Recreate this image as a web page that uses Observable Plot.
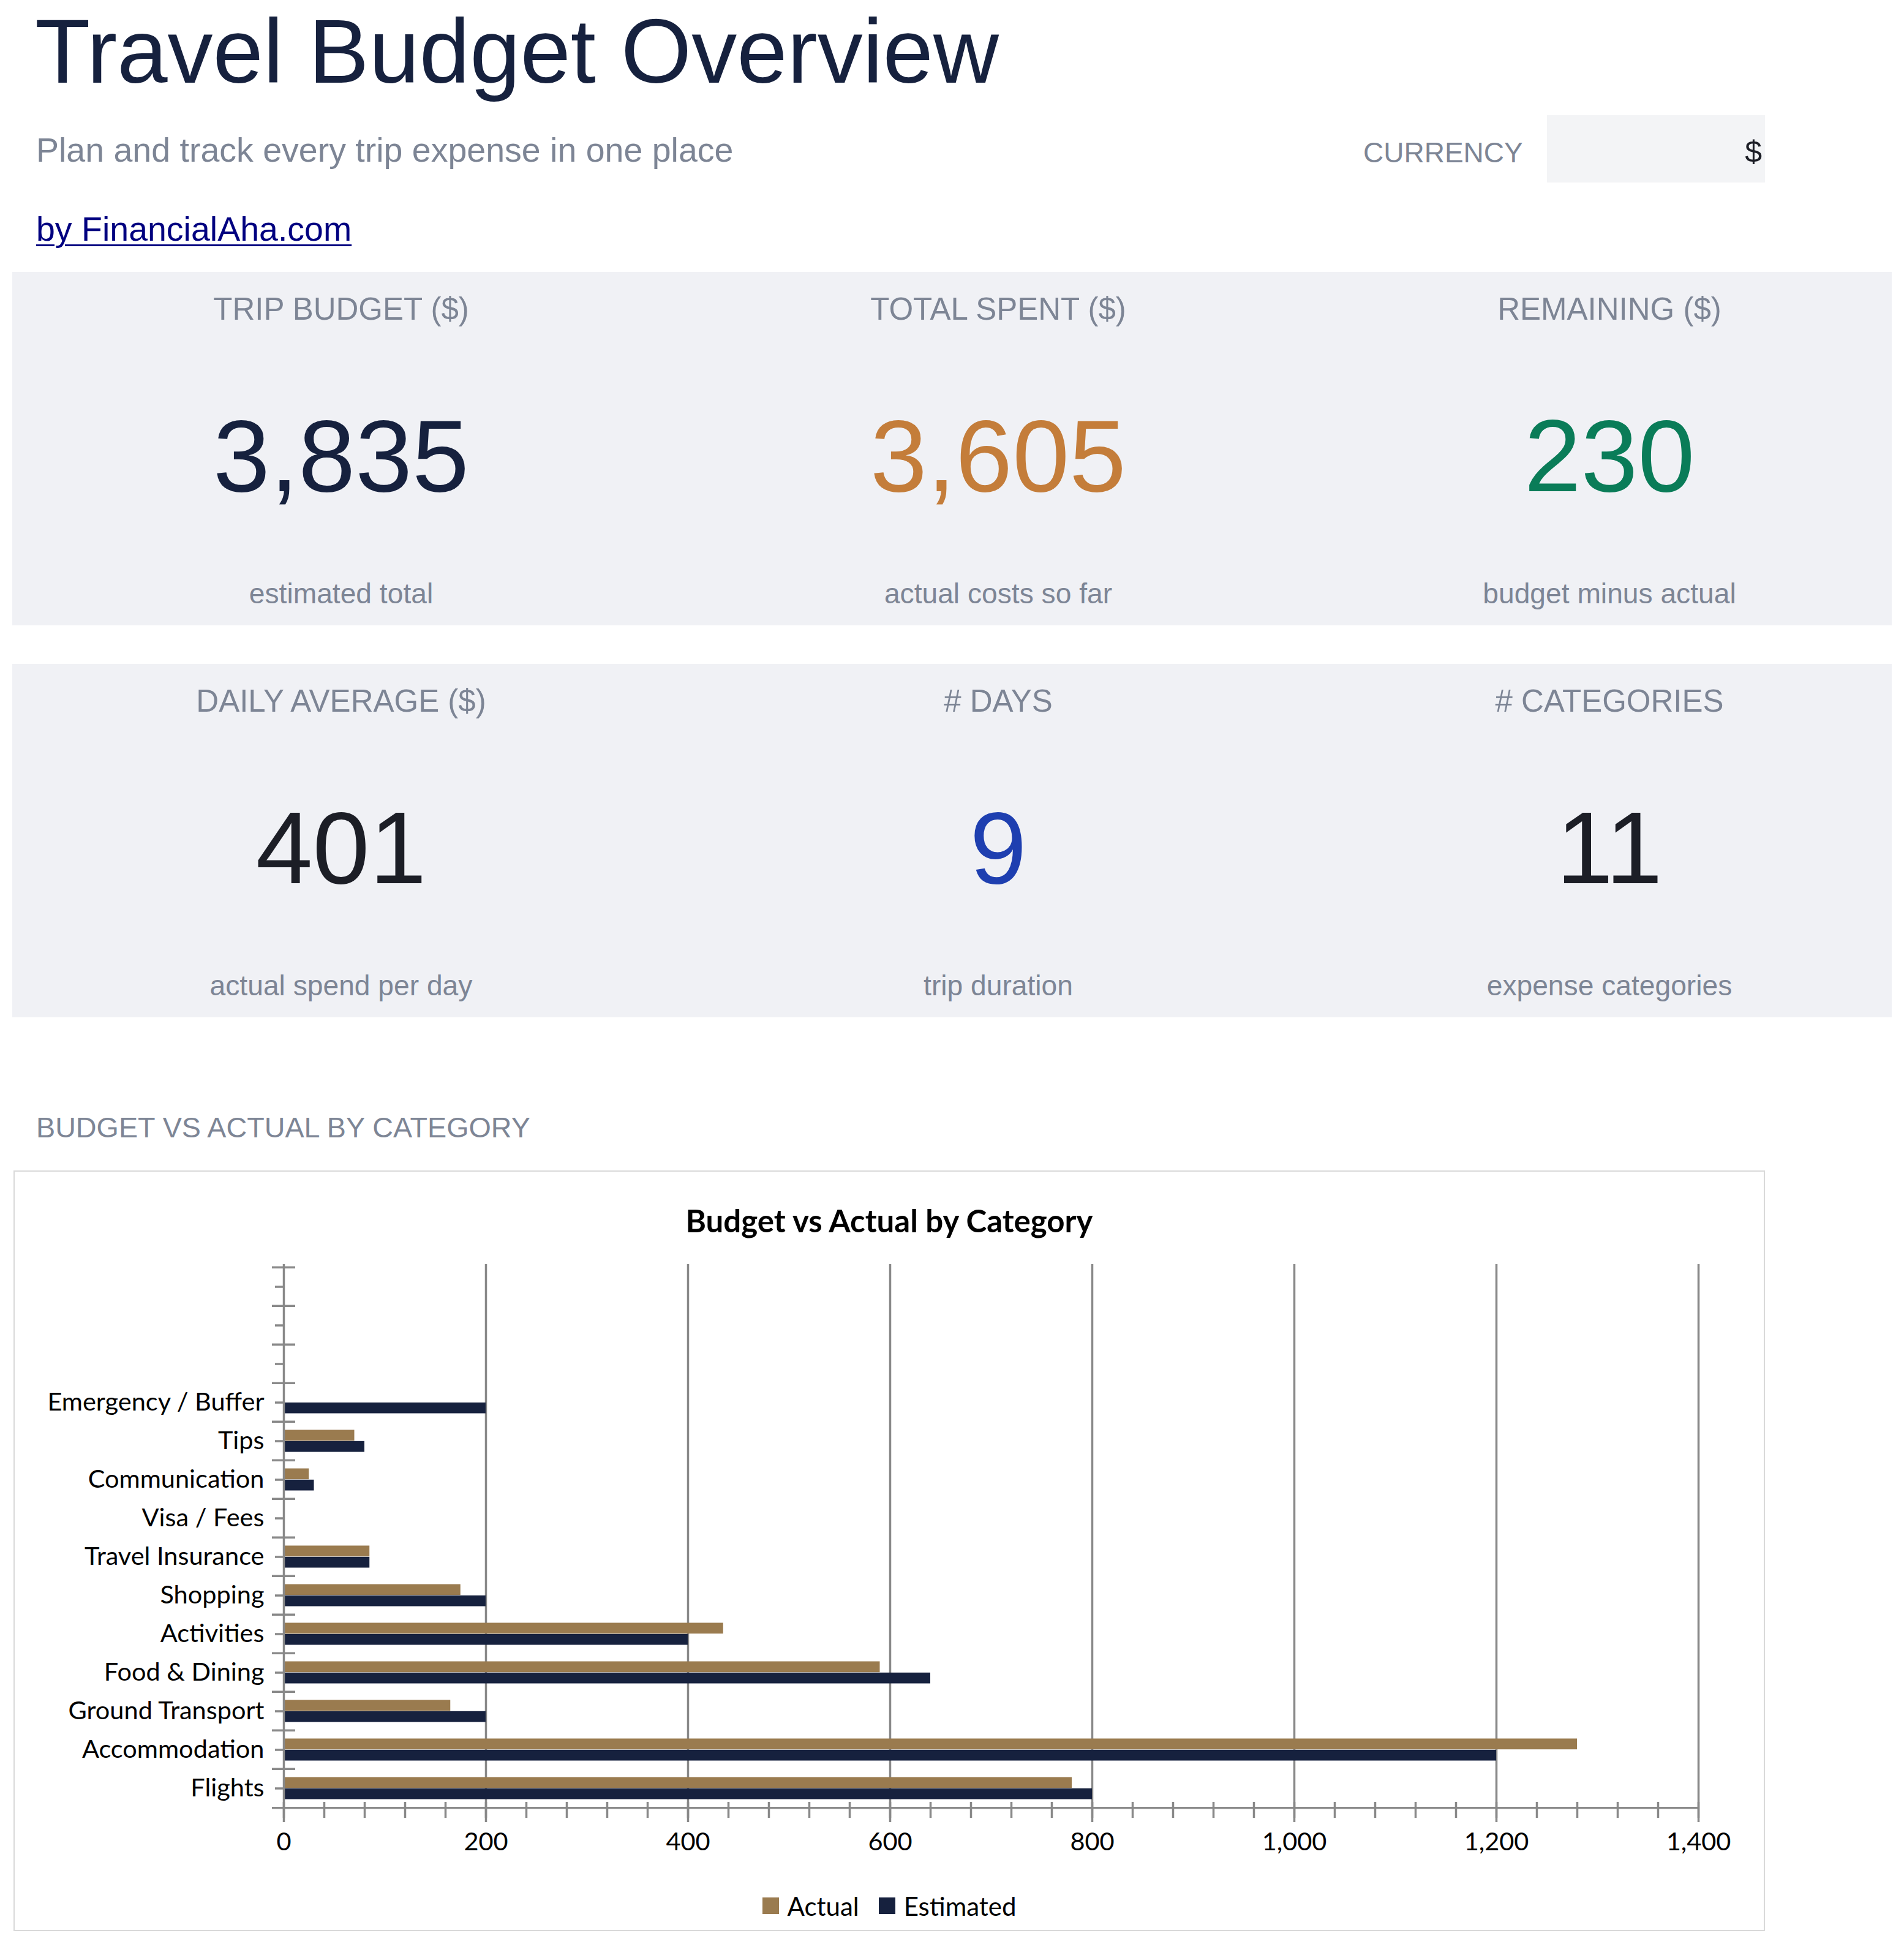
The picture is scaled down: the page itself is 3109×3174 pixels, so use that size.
<!DOCTYPE html>
<html>
<head>
<meta charset="utf-8">
<script src="https://cdn.jsdelivr.net/npm/d3@7"></script>
<script src="https://cdn.jsdelivr.net/npm/@observablehq/plot@0.6"></script>
<style>
  html, body { margin: 0; padding: 0; background: #ffffff; }
  #page { position: relative; width: 3109px; height: 3174px; font-family: "Liberation Sans", Arial, sans-serif; overflow: hidden; }
  .t { position: absolute; line-height: 1; white-space: nowrap; }
  .panel { position: absolute; left: 20px; width: 3069px; background: #f0f1f5; }
  #chartbox { position: absolute; left: 22px; top: 1911px; width: 2860px; height: 1242px; border: 2px solid #d9d9d9; box-sizing: border-box; background: #fff; }
  #plotwrap { position: absolute; left: 0px; top: 107px; }
  #ctitle { position: absolute; left: 0; width: 2856px; text-align: center; font-family: Lato, sans-serif; font-weight: bold; font-size: 51px; line-height: 1; color: #000; }
  #legend { position: absolute; left: 0; width: 2856px; display: flex; justify-content: center; align-items: center; font-family: Lato, sans-serif; font-size: 42px; line-height: 1; color: #000; }
  .sw { display: inline-block; width: 27px; height: 27px; margin-right: 14px; }
  .li { display: inline-flex; align-items: center; margin: 0 16px; }
</style>
</head>
<body>
<div id="page"></div>
<script>
// ---------------- data ----------------
const categories = ["Flights", "Accommodation", "Ground Transport", "Food & Dining", "Activities", "Shopping", "Travel Insurance", "Visa / Fees", "Communication", "Tips", "Emergency / Buffer"];
const estimated = [800, 1200, 200, 640, 400, 200, 85, 0, 30, 80, 200];
const actual    = [780, 1280, 165, 590, 435, 175, 85, 0, 25, 70, 0];
const blankRows = 3;            // empty category rows shown above the data
const tripDays = 9;
const series = ["Actual", "Estimated"];
const seriesColors = ["#9a7b4f", "#16213e"];
const xMajorTicks = [0, 200, 400, 600, 800, 1000, 1200, 1400];

const kpiLabels = ["TRIP BUDGET ($)", "TOTAL SPENT ($)", "REMAINING ($)", "DAILY AVERAGE ($)", "# DAYS", "# CATEGORIES"];
const kpiNotes  = ["estimated total", "actual costs so far", "budget minus actual", "actual spend per day", "trip duration", "expense categories"];
const kpiColors = ["#16213e", "#c47d3a", "#0a7c58", "#1c1e26", "#1e3fb0", "#1c1e26"];

// ---------------- page text ----------------
const page = document.getElementById("page");
const LIB = 0.8465, LATO = 0.887;
function addText(txt, {x, baseline, size, color, align = "left", weight = "normal", family = null, underline = false, width = 1200}) {
  const d = document.createElement("div");
  d.className = "t";
  d.textContent = txt;
  d.style.fontSize = size + "px";
  d.style.color = color;
  d.style.fontWeight = weight;
  if (family) d.style.fontFamily = family;
  if (underline) { d.style.textDecoration = "underline"; d.style.textDecorationThickness = "3px"; d.style.textUnderlineOffset = "6px"; }
  d.style.top = (baseline - LIB * size) + "px";
  if (align === "center") { d.style.left = (x - width / 2) + "px"; d.style.width = width + "px"; d.style.textAlign = "center"; }
  else if (align === "right") { d.style.left = (x - width) + "px"; d.style.width = width + "px"; d.style.textAlign = "right"; }
  else d.style.left = x + "px";
  page.appendChild(d);
  return d;
}

addText("Travel Budget Overview", {x: 57, baseline: 135, size: 148, color: "#16213e"});
addText("Plan and track every trip expense in one place", {x: 59, baseline: 265, size: 55.5, color: "#7d8595"});
addText("CURRENCY", {x: 2226, baseline: 265, size: 46, color: "#7d8595"});
const cur = document.createElement("div");
cur.style.cssText = "position:absolute;left:2526px;top:188px;width:356px;height:110px;background:#f3f4f6;";
page.appendChild(cur);
addText("$", {x: 2877, baseline: 265, size: 50, color: "#1c1e26", align: "right", width: 200});
addText("by FinancialAha.com", {x: 59, baseline: 394, size: 55.5, color: "#000080", underline: true});

// panels
const panelTops = [444, 1084];
const panelH = 577;
panelTops.forEach(t => {
  const p = document.createElement("div");
  p.className = "panel";
  p.style.top = t + "px";
  p.style.height = panelH + "px";
  page.appendChild(p);
});

const totalEst = d3.sum(estimated), totalAct = d3.sum(actual);
const kpiValues = [
  d3.format(",")(totalEst),
  d3.format(",")(totalAct),
  d3.format(",")(totalEst - totalAct),
  d3.format(",.0f")(totalAct / tripDays),
  String(tripDays),
  String(categories.length)
];
const colCenters = [557, 1630, 2628];
kpiLabels.forEach((lab, i) => {
  const top = panelTops[Math.floor(i / 3)];
  const cx = colCenters[i % 3];
  addText(lab, {x: cx, baseline: top + 78, size: 51, color: "#7d8595", align: "center"});
  addText(kpiValues[i], {x: cx, baseline: top + 358, size: 167, color: kpiColors[i], align: "center"});
  addText(kpiNotes[i], {x: cx, baseline: top + 541, size: 46.2, color: "#7d8595", align: "center"});
});

addText("BUDGET VS ACTUAL BY CATEGORY", {x: 59, baseline: 1858, size: 46.7, color: "#7d8595"});

// ---------------- chart ----------------
const box = document.createElement("div");
box.id = "chartbox";
page.appendChild(box);
const ox = 24, oy = 1913; // inner origin of the box in page coords

const ct = document.createElement("div");
ct.id = "ctitle";
ct.textContent = "Budget vs Actual by Category";
ct.style.top = (2012 - LATO * 51 - oy) + "px";
box.appendChild(ct);

const W = 2856, H = 1030;
const mL = 439, mR = 107, mT = 44, mB = 95;
const plotW = W - mL - mR;
const blanks = d3.range(blankRows).map(i => "__blank" + (blankRows - i));
const yDomain = [...blanks, ...categories.slice().reverse()];
const band = (H - mT - mB) / yDomain.length;
const barH = band * 0.288;
const outer = (band - 2 * barH) / 2;

const rowsActual = categories.map((c, i) => ({category: c, value: actual[i]}));
const rowsEst = categories.map((c, i) => ({category: c, value: estimated[i]}));
const axisColor = "#898989";
const lw = 3.5;
const minorTicks = d3.range(0, 1401, 40);
const fmtComma = d3.format(",");

const chart = Plot.plot({
  width: W, height: H,
  marginLeft: mL, marginRight: mR, marginTop: mT, marginBottom: mB,
  style: {fontFamily: "Lato, sans-serif", fontSize: "41.5px", background: "transparent", color: "#000", overflow: "visible"},
  x: {domain: [0, 1400]},
  y: {domain: yDomain, padding: 0},
  marks: [
    Plot.gridX({ticks: xMajorTicks.filter(d => d > 0), stroke: axisColor, strokeOpacity: 1, strokeWidth: lw}),
    Plot.barX(rowsActual, {x: "value", y: "category", fill: seriesColors[0], insetTop: outer, insetBottom: outer + barH}),
    Plot.barX(rowsEst, {x: "value", y: "category", fill: seriesColors[1], insetTop: outer + barH, insetBottom: outer}),
    Plot.ruleX([0], {stroke: axisColor, strokeWidth: lw}),
    Plot.ruleY(yDomain, {dy: -band / 2, insetLeft: -19, insetRight: plotW - 19, stroke: axisColor, strokeWidth: lw}),
    Plot.ruleY([yDomain[yDomain.length - 1]], {dy: band / 2, insetLeft: -19, stroke: axisColor, strokeWidth: lw}),
    Plot.axisY({tickSize: 14, tickPadding: 18, tickFormat: d => d.startsWith("__") ? "" : d, stroke: axisColor, strokeWidth: lw, fill: "#000", label: null, fontSize: 41.5}),
    Plot.axisX({ticks: xMajorTicks, tickSize: 20, tickPadding: 16, tickFormat: d => fmtComma(d), stroke: axisColor, strokeWidth: lw, fill: "#000", label: null, fontSize: 41.5}),
    Plot.axisX({ticks: minorTicks, tickSize: 13, text: null, label: null, stroke: axisColor, strokeWidth: lw}),
    Plot.axisX({ticks: minorTicks, tickSize: -13, text: null, label: null, stroke: axisColor, strokeWidth: lw})
  ]
});
const wrap = document.createElement("div");
wrap.id = "plotwrap";
wrap.style.top = (2020 - oy) + "px";
wrap.appendChild(chart);
box.appendChild(wrap);

const lg = document.createElement("div");
lg.id = "legend";
lg.style.top = (3128 - LATO * 42 - oy) + "px";
series.forEach((s, i) => {
  const item = document.createElement("span");
  item.className = "li";
  const sw = document.createElement("span");
  sw.className = "sw";
  sw.style.background = seriesColors[i];
  const tx = document.createElement("span");
  tx.textContent = s;
  item.appendChild(sw);
  item.appendChild(tx);
  lg.appendChild(item);
});
box.appendChild(lg);
</script>
</body>
</html>
